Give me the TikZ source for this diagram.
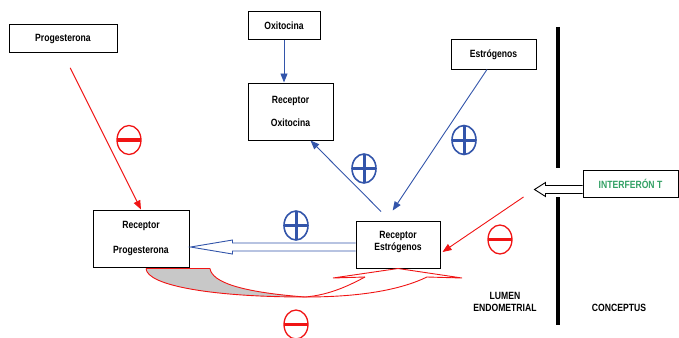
\documentclass[tikz,border=0pt]{standalone}
\usepackage{fontspec}
\setmainfont{Liberation Sans}[FakeStretch=0.82]
\usepackage{tikz}
\usetikzlibrary{
        arrows.meta,
        calc,
        positioning,
        shapes.geometric
    }
\definecolor{pblue}{RGB}{51,85,170}
\definecolor{pred}{RGB}{240,20,20}
\definecolor{pgreen}{RGB}{50,160,100}
\definecolor{pgray}{RGB}{200,200,200}
\tikzset{>={Triangle[length=9pt,width=7pt]},font=\fontsize{10.5}{12}\selectfont\bfseries}
\tikzset{box/.style={draw,line width=1pt,inner sep=0pt,align=center}}
\tikzset{redline/.style={draw=pred,line width=0.9pt}}
\tikzset{bluearr/.style={->,draw=pblue,line width=0.9pt}}
\tikzset{redarr/.style={->,draw=pred,line width=0.9pt}}
\tikzset{hollowarr/.style={line width=0.9pt,fill=white,line join=miter}}
\tikzset{pluscirc/.style={ellipse,draw=pblue,line width=1.6pt,minimum width=24pt,minimum height=29pt,inner sep=0pt,
        path picture={\draw[pblue,line width=3pt]
            (path picture bounding box.north) -- (path picture bounding box.south)
            (path picture bounding box.west) -- (path picture bounding box.east);}}}
\tikzset{minuscirc/.style={ellipse,draw=pred,line width=1.3pt,minimum width=24pt,minimum height=29pt,inner sep=0pt,
        path picture={\draw[pred,line width=3.5pt]
            (path picture bounding box.west) -- (path picture bounding box.east);}}}
\begin{document}
\begin{tikzpicture}[x=1pt,y=-1pt]
                    \useasboundingbox (0,0) rectangle (679,337);
                    % hormones and receptors
                    \node[box,minimum width=108pt,minimum height=28pt] (prog) at (63,39) {Progesterona};
                    \node[box,minimum width=72pt,minimum height=28pt] (oxi) at (284,26) {Oxitocina};
                    \node[box,minimum width=85pt,minimum height=57pt] (roxi) at (290.5,111.5) {Receptor\\[11pt]Oxitocina};
                    \node[box,minimum width=85pt,minimum height=29pt] (estr) at (493.5,54.5) {Estrógenos};
                    \node[box,minimum width=96pt,minimum height=57pt] (rprog) at (141,238.5) {Receptor\\[13pt]Progesterona};
                    \node[box,minimum width=84pt,minimum height=47pt] (restr) at (398,244.5) {Receptor\\Estrógenos\\[-5pt]};
                    \node[box,minimum width=95pt,minimum height=27pt,text=pgreen] (ifn) at (630.5,183.5) {INTERFERÓN T};
                    \node[align=center] (lumen) at (505,302) {LUMEN\\ENDOMETRIAL};
                    \node (concep) at (619,308) {CONCEPTUS};
                    % wall
                    \draw[line width=4.5pt] (558,27) -- (558,168);
                    \draw[line width=4.5pt] (558,197) -- (558,325);
                    % block arrows
                    \coordinate (itip) at ($(ifn.west)+(-48,6)$);
                    \draw[hollowarr] ($(ifn.west)+(0,2)$) -- ++(-37,0) -- ++(0,-3) -- (itip)
                        -- ++(11,7) -- ++(0,-3) -- ($(ifn.west)+(0,10)$);
                    \coordinate (ptip) at ($(rprog.east)+(1,8.5)$);
                    \draw[hollowarr,draw=pblue] ($(restr.west)+(0,-1.5)$) -- ($(ptip)+(42,-4)$) -- ++(0,-3) -- (ptip)
                        -- ++(42,7) -- ++(0,-3) -- ($(restr.west)+(0,6.5)$);
                    % curved arrow
                    \coordinate (bo) at ($(rprog.south)+(5,1)$);
                    \coordinate (bi) at ($(rprog.south)+(69,1)$);
                    \coordinate (bm) at (305,297);
                    \coordinate (bh) at (restr.south);
                    \fill[pgray] (bo) -- (bi) .. controls (212,282) and (240,292) .. (bm)
                        .. controls (215,297) and (147,286) .. (bo);
                    \draw[redline] (bo) -- (bi);
                    \draw[redline] (bo) .. controls (147,286) and (215,297) .. (bm)
                        .. controls (360,297) and (400,290) .. (427,277);
                    \draw[redline] (bi) .. controls (212,282) and (240,292) .. (bm)
                        .. controls (330,295) and (350,285) .. (365,277);
                    \draw[redline,line join=miter] (365,277) -- (333,278) -- (bh) -- (462,278) -- (427,277);
                    % arrows
                    \path
                        (prog.south) edge[redarr,shorten <=16pt] (rprog.north)
                        (oxi.south) edge[bluearr] (oxi.south |- roxi.north)
                        ($(estr.south)+(-6.5,0)$) edge[bluearr,shorten >=12pt] ($(restr.north)+(-12,0)$)
                        ($(restr.north)+(-8,0)$) edge[bluearr,shorten <=12.7pt] ($(roxi.south east)+(-23,0)$)
                        ($(itip)+(-11,7.5)$) edge[redarr] ($(restr.east)+(2,7.5)$);
                    % signs
                    \node[minuscirc] (m1) at (129,140) {};
                    \node[pluscirc] (p1) at (364,168.5) {};
                    \node[pluscirc] (p2) at (464,140) {};
                    \node[pluscirc] (p3) at (296,225.5) {};
                    \node[minuscirc] (m2) at (500,239.5) {};
                    \node[minuscirc] (m3) at (296,324.5) {};
                \end{tikzpicture}
\end{document}
